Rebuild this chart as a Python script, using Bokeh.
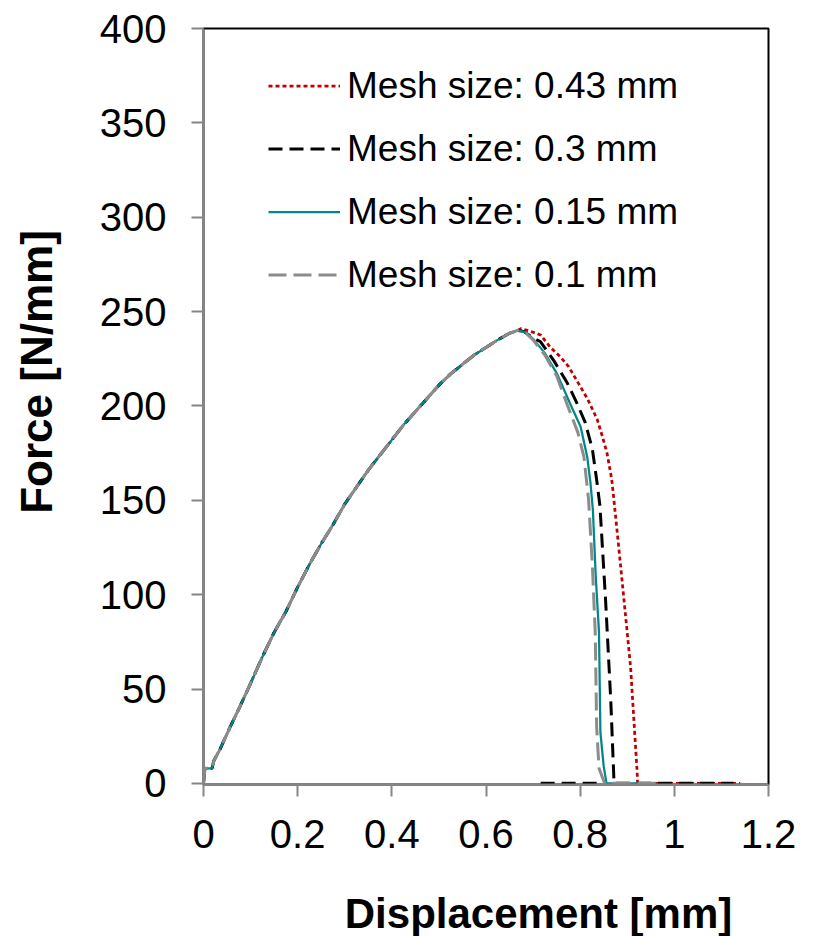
import math
from bokeh.plotting import figure
from bokeh.models import (Range1d, FixedTicker, NumeralTickFormatter, Legend,
                          LegendItem, Label)
from bokeh.embed import file_html
from bokeh.resources import INLINE

# ---- data ----
rise_x = [0, 0.003, 0.018, 0.022, 0.035, 0.055, 0.078, 0.1, 0.125, 0.15, 0.175,
          0.2, 0.225, 0.25, 0.275, 0.3, 0.325, 0.35, 0.375, 0.4, 0.425, 0.45,
          0.475, 0.5, 0.525, 0.55, 0.575, 0.6, 0.625, 0.65, 0.667]
rise_f = [0, 8, 8, 12, 18, 29, 41, 53, 67, 80, 91,
          104, 116, 127, 137, 148, 157, 166, 174, 182, 190, 197,
          204, 211, 217, 222, 227, 231, 235, 238.5, 240]

# Mesh size 0.43 mm (post-peak part)
m043_x = [0.675, 0.695, 0.716, 0.737, 0.758, 0.775, 0.794, 0.815, 0.836, 0.847,
          0.857, 0.865, 0.868, 0.873, 0.886, 0.907, 0.921, 0.922, 1.14]
m043_f = [241, 239.5, 237.6, 231, 226, 221, 213, 204, 193, 184,
          175, 164, 159, 147, 115, 62, 6, 0, 0]

# Mesh size 0.3 mm
m03_x = [0.68, 0.70, 0.716, 0.744, 0.773, 0.794, 0.811, 0.826, 0.836, 0.842,
         0.854, 0.865, 0.872, 1.126]
m03_f = [239.5, 236, 234, 224, 212, 201, 191, 177, 159, 147,
         97, 44, 0, 0]
m03_zero_x = [0.716, 0.85]
m03_zero_f = [0, 0]

# Mesh size 0.15 mm
m015_x = [0.685, 0.702, 0.725, 0.751, 0.779, 0.801, 0.815, 0.822, 0.827, 0.833,
          0.840, 0.843, 0.850, 0.856, 0.95]
m015_f = [239, 235, 228, 217, 201, 189, 173, 159, 145, 110,
          80, 27, 9, 0, 0]

# Mesh size 0.1 mm
m01_x = [0.685, 0.70, 0.725, 0.75, 0.772, 0.795, 0.808, 0.818, 0.826, 0.832,
         0.835, 0.840, 0.852, 0.97]
m01_f = [238.5, 235, 227, 216, 201, 186, 173, 150, 115, 80,
         30, 8, 0, 0]

labels = ["Mesh size: 0.43 mm", "Mesh size: 0.3 mm",
          "Mesh size: 0.15 mm", "Mesh size: 0.1 mm"]
x_ticks = [0, 0.2, 0.4, 0.6, 0.8, 1, 1.2]
y_ticks = [0, 50, 100, 150, 200, 250, 300, 350, 400]
x_title = "Displacement [mm]"
y_title = "Force [N/mm]"

FONT = "Liberation Sans"
AXIS_GREY = "#868686"

p = figure(width=813, height=936, x_range=Range1d(0, 1.2), y_range=Range1d(-0.6, 400),
           output_backend="svg", toolbar_location=None,
           min_border_left=203, min_border_right=45, min_border_top=28,
           min_border_bottom=152)
p.background_fill_color = "white"
p.border_fill_color = "white"
p.outline_line_color = "black"
p.outline_line_width = 2
p.grid.visible = False

for ax in (p.xaxis[0], p.yaxis[0]):
    ax.axis_line_color = AXIS_GREY
    ax.axis_line_width = 2
    ax.major_tick_line_color = AXIS_GREY
    ax.major_tick_line_width = 2
    ax.major_tick_in = 0
    ax.major_tick_out = 12
    ax.minor_tick_line_color = None
    ax.major_label_text_font = FONT
    ax.major_label_text_font_size = "40px"
    ax.major_label_text_color = "black"

p.xaxis[0].ticker = FixedTicker(ticks=x_ticks)
p.xaxis[0].formatter = NumeralTickFormatter(format="0.[0]")
p.xaxis[0].major_label_standoff = 23
p.yaxis[0].ticker = FixedTicker(ticks=y_ticks)
p.yaxis[0].major_label_standoff = 25


def nan_join(a, b):
    return a + [math.nan] + b


r043 = p.line(rise_x + m043_x, rise_f + m043_f, line_color="#C00000",
              line_width=2.75, line_dash="4 3")
r03 = p.line(nan_join(rise_x + m03_x, m03_zero_x), nan_join(rise_f + m03_f, m03_zero_f),
             line_color="black", line_width=3, line_dash="14 7")
r015 = p.line(rise_x + m015_x, rise_f + m015_f, line_color="#00878A",
              line_width=2.25)
r01 = p.line(rise_x + m01_x, rise_f + m01_f, line_color="#8C8C8C",
             line_width=3, line_dash="18 7")

legend = Legend(items=[LegendItem(label=labels[0], renderers=[r043]),
                       LegendItem(label=labels[1], renderers=[r03]),
                       LegendItem(label=labels[2], renderers=[r015]),
                       LegendItem(label=labels[3], renderers=[r01])],
                location=(65, 488), orientation="vertical")
legend.label_text_font = FONT
legend.label_text_font_size = "37px"
legend.label_text_color = "black"
legend.glyph_width = 72
legend.glyph_height = 43
legend.label_height = 43
legend.label_standoff = 7
legend.spacing = 20
legend.padding = 0
legend.margin = 0
legend.border_line_alpha = 0
legend.background_fill_alpha = 0
p.add_layout(legend, "center")

# axis titles as labels placed in the side panels (positions in data units)
xt = Label(x=0.7115, y=-68.8, x_units="data", y_units="data",
           text=x_title, text_font=FONT, text_font_size="42px",
           text_font_style="bold", text_align="center", text_baseline="alphabetic",
           text_color="black")
yt = Label(x=-0.3547, y=218, x_units="data", y_units="data",
           text=y_title, text_font=FONT, text_font_size="44px",
           text_font_style="bold", text_align="center", text_baseline="alphabetic",
           angle=math.pi / 2, text_color="black")
p.add_layout(xt, "below")
p.add_layout(yt, "left")

open("out.html", "w").write(file_html(p, INLINE))
